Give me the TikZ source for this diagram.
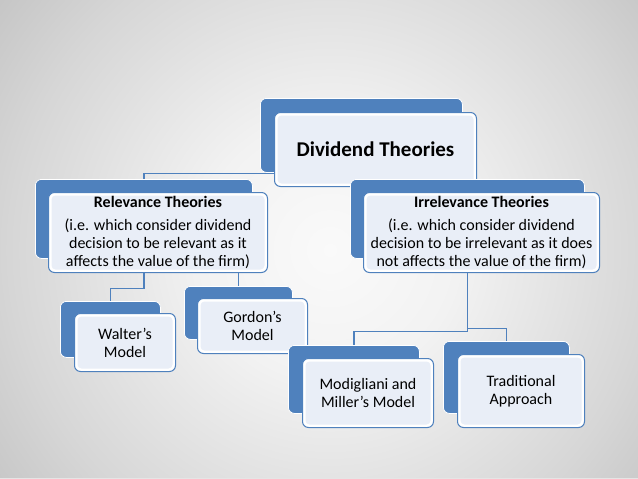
\documentclass[tikz,border=0pt]{standalone}
\usepackage{fontspec}
\setmainfont{Carlito}
\definecolor{sblue}{HTML}{4F81BD}
\definecolor{sfill}{HTML}{E9EEF7}
\pgfdeclareradialshading{bgshade}{\pgfpoint{0bp}{0bp}}{%
  color(0bp)=(white!98!black);
  color(8bp)=(white!95!black);
  color(20bp)=(white!84!black);
  color(31bp)=(white!72!black);
  color(41bp)=(white!60!black);
  color(50bp)=(white!55!black)}
\newcommand{\bodyfont}{\fontsize{16}{18}\selectfont}
\tikzset{
  backbox/.style={draw=white, line width=0.8pt, fill=sblue, rounded corners=6pt,
    inner sep=0pt, anchor=north west},
  frontbox/.style={draw=sblue, line width=1pt, fill=white, rounded corners=6pt,
    inner sep=0pt, anchor=north west, align=center, font=\bodyfont, text=black,
    path picture={\fill[sfill, rounded corners=4pt]
      ([shift={(3pt,-3pt)}]path picture bounding box.north west) rectangle
      ([shift={(-3pt,3pt)}]path picture bounding box.south east);}},
  conn/.style={draw=sblue, line width=1.3pt}
}
\begin{document}
\begin{tikzpicture}[x=1pt, y=-1pt]
\useasboundingbox (0,0) rectangle (638,479);
\begin{scope}
  \clip (0,0) rectangle (638,479);
  \shade[shading=bgshade] (-70,-150) rectangle (730,650);
\end{scope}
\fill[white!90!black] (0,477.5) rectangle (638,479);

% invisible placeholders of the back boxes, so that connectors sit behind all boxes
\path (260,98) node[backbox, draw=none, fill=none, minimum width=202pt, minimum height=74pt] (dtb0) {};
\path (35,179) node[backbox, draw=none, fill=none, minimum width=217pt, minimum height=79pt] (relb0) {};
\path (350,179) node[backbox, draw=none, fill=none, minimum width=234pt, minimum height=79pt] (irrb0) {};
\path (60,301) node[backbox, draw=none, fill=none, minimum width=100pt, minimum height=56pt] (walb0) {};
\path (184,286) node[backbox, draw=none, fill=none, minimum width=108pt, minimum height=53pt] (gorb0) {};
\path (288,345) node[backbox, draw=none, fill=none, minimum width=131pt, minimum height=68pt] (modb0) {};
\path (443,341) node[backbox, draw=none, fill=none, minimum width=126pt, minimum height=72pt] (trab0) {};

% connectors
\draw[conn] (dtb0.south) -- ++(0,1) -| (relb0.north);
\draw[conn] (dtb0.south) -- ++(0,1) -| (irrb0.north);
\draw[conn] (relb0.south) -- ++(0,30) -| (walb0.north);
\draw[conn] (relb0.south) -- ++(0,7) -| (gorb0.north);
\draw[conn] (irrb0.south) -- ++(0,73) -| (modb0.north);
\draw[conn] (irrb0.south) -- ++(0,70) -| (trab0.north);

% Dividend Theories
\node[backbox, minimum width=202pt, minimum height=74pt] (dtb) at (260,98) {};
\node[frontbox, minimum width=202pt, minimum height=74pt] (dt) at (274,112)
  {\fontsize{21}{24}\selectfont\bfseries Dividend Theories};

% Relevance
\node[backbox, minimum width=217pt, minimum height=79pt] (relb) at (35,179) {};
\node[frontbox, minimum width=219pt, minimum height=80pt] (rel) at (48,192)
  {\textbf{Relevance Theories}\\[5pt](i.e. which consider dividend\\decision to be relevant as it\\affects the value of the firm)};

% Irrelevance
\node[backbox, minimum width=234pt, minimum height=79pt] (irrb) at (350,179) {};
\node[frontbox, minimum width=236pt, minimum height=80pt] (irr) at (363,192)
  {\textbf{Irrelevance Theories}\\[5pt](i.e. which consider dividend\\decision to be irrelevant as it does\\not affects the value of the firm)};

% Walter
\node[backbox, minimum width=100pt, minimum height=56pt] (walb) at (60,301) {};
\node[frontbox, minimum width=101pt, minimum height=58pt] (wal) at (74,313)
  {Walter’s\\Model};

% Gordon
\node[backbox, minimum width=108pt, minimum height=53pt] (gorb) at (184,286) {};
\node[frontbox, minimum width=110pt, minimum height=55pt] (gor) at (197,298)
  {Gordon’s\\Model};

% Modigliani
\node[backbox, minimum width=131pt, minimum height=68pt] (modb) at (288,345) {};
\node[frontbox, minimum width=131pt, minimum height=69pt] (mod) at (302,358)
  {Modigliani and\\Miller’s Model};

% Traditional
\node[backbox, minimum width=126pt, minimum height=72pt] (trab) at (443,341) {};
\node[frontbox, minimum width=127pt, minimum height=73pt] (tra) at (457,354)
  {Traditional\\Approach};
\end{tikzpicture}
\end{document}
